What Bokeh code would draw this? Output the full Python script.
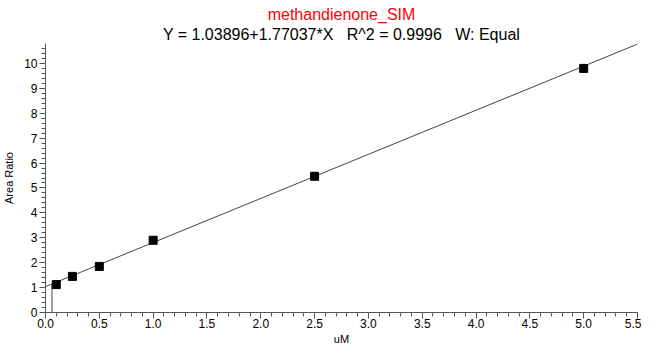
from bokeh.plotting import figure
from bokeh.models import Range1d, Title, FixedTicker
from bokeh.embed import file_html
from bokeh.resources import INLINE

# Data
conc = [0.1, 0.25, 0.5, 1.0, 2.5, 5.0]
area_ratio = [1.12, 1.45, 1.85, 2.90, 5.47, 9.80]
intercept = 1.03896
slope = 1.77037
x_line = [0.0, 5.5]
lod_x = 0.06
x_ticks = [0.0, 0.5, 1.0, 1.5, 2.0, 2.5, 3.0, 3.5, 4.0, 4.5, 5.0, 5.5]
y_ticks = [0, 1, 2, 3, 4, 5, 6, 7, 8, 9, 10]
title_text = "methandienone_SIM"
subtitle_text = "Y = 1.03896+1.77037*X\u00a0\u00a0\u00a0R^2 = 0.9996\u00a0\u00a0\u00a0W: Equal"
x_label = "uM"
y_label = "Area Ratio"

FONT = "Liberation Sans"

p = figure(width=641, height=344, output_backend="svg", toolbar_location=None,
           x_range=Range1d(0, 5.5), y_range=Range1d(0, 10.8),
           min_border_left=36, min_border_right=4, min_border_top=43, min_border_bottom=0)
p.outline_line_color = None
p.xgrid.visible = False
p.ygrid.visible = False

# regression line
y_line = [intercept + slope * x for x in x_line]
p.line(x_line, y_line, line_color="#444444", line_width=1)
# vertical marker line
p.segment(x0=[lod_x], y0=[0], x1=[lod_x], y1=[intercept + slope * lod_x],
          line_color="#444444", line_width=1)
# points
p.scatter(conc, area_ratio, marker="square", size=8, fill_color="black", line_color="black")

for ax in (p.xaxis[0], p.yaxis[0]):
    ax.axis_line_color = "#555555"
    ax.major_tick_line_color = "#555555"
    ax.minor_tick_line_color = "#555555"
    ax.major_tick_out = 6
    ax.major_tick_in = 0
    ax.minor_tick_out = 4
    ax.minor_tick_in = 0
    ax.major_label_text_font = FONT
    ax.major_label_text_font_size = "12px"
    ax.major_label_text_color = "black"
    ax.axis_label_text_font = FONT
    ax.axis_label_text_font_size = "11px"
    ax.axis_label_text_font_style = "normal"
    ax.axis_label_text_color = "black"

p.xaxis.ticker = FixedTicker(ticks=x_ticks, minor_ticks=[i / 10 for i in range(56)])
p.yaxis.ticker = FixedTicker(ticks=y_ticks, minor_ticks=[i / 5 for i in range(54)])
p.xaxis.major_label_overrides = {t: f"{t:.1f}" for t in x_ticks}
p.yaxis.axis_label = y_label
p.xaxis.major_label_standoff = 0
p.yaxis.major_label_standoff = 2
p.yaxis.axis_label_standoff = 6

p.add_layout(Title(text=x_label, align="center", text_font=FONT, text_font_size="11px",
                   text_font_style="normal", text_color="black", offset=-6, standoff=0), "below")

p.add_layout(Title(text=subtitle_text, align="center",
                   text_font=FONT, text_font_size="16px", text_font_style="normal",
                   text_color="black", offset=-20, standoff=2), "above")
p.add_layout(Title(text=title_text, align="center",
                   text_font=FONT, text_font_size="16px", text_font_style="normal",
                   text_color="red", offset=-20, standoff=0), "above")

open("out.html", "w").write(file_html(p, INLINE))
